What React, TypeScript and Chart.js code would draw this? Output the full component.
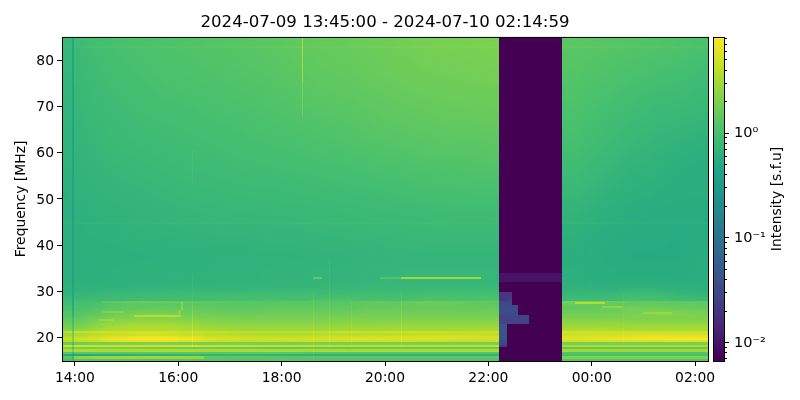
import { useEffect, useRef } from "react";
import { Chart, registerables } from "chart.js";

Chart.register(...registerables);

const chartTitle = "2024-07-09 13:45:00 - 2024-07-10 02:14:59";
const yLabel = "Frequency [MHz]";
const barLabel = "Intensity [s.f.u]";
const hourTicks = [14, 16, 18, 20, 22, 24, 26];
const hourLabels = ["14:00", "16:00", "18:00", "20:00", "22:00", "00:00", "02:00"];
const freqTicks = [20, 30, 40, 50, 60, 70, 80];
const vMin = 0.0066;
const vMax = 8.2;
const barMajor = [0.01, 0.1, 1];
const barMajorLabels = ["10\u207B\u00B2", "10\u207B\u00B9", "10\u2070"];
const barMinor = [0.007, 0.008, 0.009, 0.02, 0.03, 0.04, 0.05, 0.06, 0.07, 0.08, 0.09, 0.2, 0.3, 0.4, 0.5, 0.6, 0.7, 0.8, 0.9, 2, 3, 4, 5, 6, 7, 8];
const viridis = ["#440154", "#482475", "#414487", "#355f8d", "#2a788e", "#21918c", "#22a884", "#44bf70", "#7ad151", "#bddf26", "#fde725"];

// column edges, hours since 00:00 on the first day
const timeEdges = [13.75, 13.94, 13.98, 14.25, 14.5, 15, 15.5, 16, 16.5, 17, 17.5, 18, 18.5, 19, 19.5, 20, 20.5, 21, 21.5, 22, 22.215, 22.37, 22.45, 22.57, 22.78, 23.43, 24, 24.5, 25, 25.5, 26, 26.25];
const freqEdges = [85, 83, 80, 75, 70, 65, 60, 55, 50, 45, 40, 35, 34, 32, 30, 29, 28, 27.5, 27, 26, 25, 24.5, 24, 23, 22, 21.5, 21, 20.5, 20, 19.5, 19, 18.5, 18, 17.5, 17, 16.5, 16, 15.5, 15];
const G = 0.0066;

const intensity = [
  [.75, .45, .85, .95, 1.0, 1.05, 1.1, 1.15, 1.2, 1.25, 1.3, 1.4, 1.5, 1.55, 1.65, 1.75, 1.85, 1.9, 1.95, 2.0, G, G, G, G, G, 1.3, 1.25, 1.2, 1.15, 1.1, 1.05],
  [.74, .45, .82, .92, .98, 1.03, 1.08, 1.12, 1.18, 1.22, 1.28, 1.38, 1.45, 1.5, 1.6, 1.72, 1.8, 1.85, 1.9, 1.95, G, G, G, G, G, 1.25, 1.2, 1.15, 1.1, 1.05, 1.0],
  [.72, .45, .8, .88, .95, 1, 1.05, 1.08, 1.12, 1.18, 1.22, 1.3, 1.4, 1.45, 1.55, 1.65, 1.72, 1.78, 1.8, 1.85, G, G, G, G, G, 1.2, 1.12, 1.05, 1, .95, .9],
  [.7, .44, .75, .82, .9, .95, 1, 1.02, 1.05, 1.1, 1.15, 1.22, 1.3, 1.35, 1.42, 1.5, 1.58, 1.62, 1.65, 1.68, G, G, G, G, G, 1.12, 1.02, .95, .88, .85, .8],
  [.68, .43, .72, .78, .84, .9, .93, .96, 1, 1.02, 1.08, 1.12, 1.18, 1.22, 1.3, 1.38, 1.42, 1.48, 1.5, 1.52, G, G, G, G, G, 1.04, .94, .85, .78, .75, .72],
  [.66, .42, .7, .74, .8, .84, .87, .9, .93, .97, 1, 1.03, 1.08, 1.12, 1.18, 1.22, 1.28, 1.3, 1.32, 1.35, G, G, G, G, G, .98, .86, .76, .7, .66, .63],
  [.64, .41, .67, .7, .74, .78, .82, .85, .87, .9, .92, .95, .97, 1, 1.05, 1.08, 1.12, 1.14, 1.15, 1.18, G, G, G, G, G, .88, .76, .68, .64, .6, .58],
  [.62, .4, .65, .67, .7, .72, .75, .78, .8, .82, .83, .85, .87, .9, .92, .95, 1, 1, 1.02, 1.02, G, G, G, G, G, .78, .68, .63, .6, .57, .56],
  [.6, .39, .62, .64, .66, .68, .7, .72, .73, .75, .76, .77, .78, .8, .82, .84, .87, .88, .88, .88, G, G, G, G, G, .68, .61, .57, .55, .54, .55],
  [.6, .38, .61, .62, .63, .65, .66, .67, .68, .68, .7, .7, .72, .73, .74, .76, .77, .78, .78, .78, G, G, G, G, G, .62, .57, .55, .54, .53, .55],
  [.6, .38, .6, .6, .6, .61, .62, .62, .63, .63, .65, .65, .66, .67, .68, .7, .7, .7, .7, .7, G, G, G, G, G, .58, .55, .53, .53, .53, .56],
  [.6, .38, .6, .6, .62, .63, .63, .64, .65, .65, .66, .67, .68, .68, .7, .72, .72, .72, .72, .72, G, G, G, G, G, .6, .56, .55, .55, .55, .57],
  [.6, .38, .6, .6, .62, .63, .63, .64, .65, .65, .66, .67, .68, .68, .7, .72, .72, .72, .72, .72, .0095, .0095, .0095, .0095, .0095, .6, .56, .55, .55, .55, .57],
  [.62, .4, .62, .63, .65, .66, .67, .68, .68, .68, .7, .72, .72, .72, .74, .75, .75, .75, .76, .76, G, G, G, G, G, .64, .62, .64, .64, .6, .6],
  [.7, .45, .72, .74, .78, .8, .82, .85, .85, .85, .85, .88, .9, .9, .92, .92, .95, .95, .95, .95, .02, .02, G, G, G, .75, .75, .85, .8, .72, .7],
  [.75, .46, .78, .8, .85, .88, .9, .9, .95, .95, .95, .95, 1, 1, 1, 1, 1.05, 1.05, 1.05, 1.05, .02, .022, G, G, G, .85, .85, 1, .95, .85, .8],
  [.9, .5, .95, 1, 1.4, 1.6, 1.55, 1.45, 1.4, 1.3, 1.25, 1.3, 1.3, 1.3, 1.5, 1.45, 1.7, 1.6, 1.45, 1.4, .028, .028, G, G, G, 1.8, 1.7, 1.5, 1.45, 1.4, 1.4],
  [.9, .5, 1, 1.05, 1.25, 1.35, 1.3, 1.3, 1.3, 1.25, 1.3, 1.3, 1.3, 1.3, 1.45, 1.4, 1.6, 1.55, 1.45, 1.4, .03, .03, G, G, G, 1.6, 1.5, 1.4, 1.4, 1.45, 1.5],
  [1, .55, 1.05, 1.15, 1.3, 1.4, 1.5, 1.4, 1.4, 1.35, 1.4, 1.4, 1.4, 1.4, 1.5, 1.5, 1.5, 1.5, 1.5, 1.5, .035, .035, .035, G, G, 1.4, 1.5, 1.8, 1.7, 1.5, 1.5],
  [1.15, .6, 1.2, 1.3, 1.6, 1.8, 1.8, 1.6, 1.6, 1.5, 1.6, 1.6, 1.6, 1.6, 1.7, 1.7, 1.7, 1.7, 1.7, 1.7, .035, .035, .035, G, G, 1.7, 1.7, 1.8, 2, 2, 1.9],
  [1.2, .7, 1.3, 1.5, 1.8, 2.1, 2.2, 1.9, 1.8, 1.7, 1.8, 1.8, 1.8, 1.8, 1.9, 1.9, 1.9, 1.9, 1.9, 1.9, .028, .028, .028, .028, G, 1.9, 1.9, 2, 2.2, 2.2, 2],
  [1.3, .8, 1.4, 1.7, 2, 2.2, 2.2, 2.0, 2, 1.9, 1.9, 1.9, 1.9, 2, 2, 2, 2, 2, 2, 2, .028, .028, .028, .028, G, 2, 2, 2, 2, 2, 2],
  [1.5, .9, 1.6, 2, 2.4, 2.6, 2.6, 2.4, 2.2, 2.1, 2.1, 2.1, 2.1, 2.2, 2.2, 2.3, 2.3, 2.3, 2.3, 2.3, .028, .028, .028, .028, G, 2.4, 2.4, 2.3, 2.3, 2.3, 2.3],
  [1.8, 1.1, 2, 2.4, 3, 3.4, 3.4, 3, 2.7, 2.6, 2.6, 2.6, 2.6, 2.7, 2.7, 2.8, 2.8, 2.8, 2.8, 2.8, .04, G, G, G, G, 2.8, 2.9, 2.9, 2.9, 2.9, 2.9],
  [2.2, 1.2, 2.4, 2.8, 3.4, 3.6, 3.6, 3.2, 3, 2.8, 2.8, 2.8, 2.8, 3, 3, 3, 3, 3, 3.1, 3.2, .04, G, G, G, G, 3.4, 3.4, 3.2, 3.2, 3.2, 3.2],
  [4.2, 2, 4.5, 4.8, 5, 5.2, 5, 4.6, 4.4, 4.2, 4.2, 4.2, 4.2, 4.5, 4.5, 4.6, 4.6, 4.5, 4.5, 4.6, .04, G, G, G, G, 5, 5, 4.8, 4.6, 4.6, 4.6],
  [3, 1.6, 3.2, 3.6, 4.2, 4.8, 4.8, 4.2, 3.6, 3.4, 3.2, 3.2, 3.4, 3.5, 3.6, 3.8, 4, 4, 4, 4, .04, G, G, G, G, 4.4, 4.6, 5, 5.2, 5, 5],
  [3.6, 1.8, 3.8, 4.5, 5.5, 6.5, 6.5, 5.6, 4.6, 4.4, 4.2, 4.2, 4.5, 4.6, 4.8, 5, 5.4, 5.4, 5.2, 5, .04, G, G, G, G, 5.4, 5.6, 6, 6.4, 6.4, 6.2],
  [4.4, 2.2, 4.8, 5.5, 7, 8, 8, 7, 5.6, 5, 5, 5, 5.2, 5.5, 5.6, 5.6, 5.6, 5.4, 5.2, 5.2, .04, G, G, G, G, 6, 6.5, 7, 7.6, 8, 7.8],
  [3.6, 1.8, 3.8, 4.4, 5.5, 6, 6, 5.2, 4.6, 4.2, 4.2, 4.4, 4.4, 4.5, 4.6, 4.5, 4.4, 4.2, 4.2, 4.4, .03, G, G, G, G, 4.8, 5, 5.2, 5.4, 5.6, 5.6],
  [1.6, .9, 1.7, 1.8, 1.9, 2, 2, 1.9, 1.9, 1.9, 1.9, 1.9, 1.9, 1.9, 1.9, 1.9, 1.9, 1.9, 1.9, 1.9, .03, G, G, G, G, 1.9, 1.9, 1.9, 1.9, 1.9, 1.9],
  [5, 2.4, 5, 5, 5, 5, 5, 5, 4.8, 4.6, 4.4, 4.4, 4.2, 4.2, 4.2, 4.2, 4.2, 4.2, 4.2, 4.2, .02, G, G, G, G, 3.6, 3.6, 3.6, 3.6, 3.6, 3.6],
  [1.8, 1, 1.8, 1.8, 1.8, 1.8, 1.7, 1.6, 1.6, 1.6, 1.5, 1.5, 1.5, 1.5, 1.5, 1.5, 1.5, 1.5, 1.5, 1.5, G, G, G, G, G, 1.4, 1.4, 1.4, 1.4, 1.4, 1.4],
  [3.4, 1.8, 3.4, 3.4, 3.4, 3.4, 3.4, 3.4, 3.2, 3.2, 3.2, 3.2, 3.2, 3.2, 3.2, 3.2, 3.2, 3.2, 3.2, 3.2, G, G, G, G, G, 3, 3, 3, 3, 3, 3],
  [1.3, .8, 1.3, 1.3, 1.3, 1.3, 1.3, 1.3, 1.3, 1.3, 1.3, 1.3, 1.2, 1.2, 1.2, 1.2, 1.2, 1.2, 1.2, 1.2, G, G, G, G, G, 1.2, 1.2, 1.2, 1.2, 1.2, 1.2],
  [.5, .35, .5, .5, .55, .6, .65, .7, .7, .7, .7, .65, .65, .65, .65, .65, .65, .65, .65, .65, G, G, G, G, G, 1, 1, 1, 1, 1, 1],
  [1.3, .8, 2.2, 2.6, 2.8, 2.8, 2.8, 2.6, 1.4, 1.3, 1.3, 1.3, 1.3, 1.3, 1.3, 1.3, 1.3, 1.3, 1.3, 1.3, G, G, G, G, G, 2, 2, 2, 2, 2, 2],
  [1, .7, 1.2, 1.2, 1.2, 1.2, 1.2, 1.2, 1.2, 1.2, 1.2, 1.2, 1.1, 1.1, 1.1, 1.1, 1.1, 1.1, 1.1, 1.1, G, G, G, G, G, 1.2, 1.2, 1.2, 1.2, 1.2, 1.2],
];

// short streaks and bursts: time span, frequency span and the gain over the grid value
const eventStart = [18.4, 18.4, 19.9, 20.3, 18.6, 16.0, 16.05, 16.26, 16.26, 16.26, 15.15, 14.55, 14.45, 18.92, 20.3, 18.6, 19.35, 23.96, 24.6, 23.67, 24.2, 25.0, 13.75, 23.43, 13.75, 23.43];
const eventEnd = [18.42, 18.42, 20.3, 21.85, 18.78, 16.05, 16.1, 16.28, 16.28, 16.28, 16.06, 14.95, 14.75, 18.94, 20.32, 18.62, 19.37, 23.98, 24.62, 24.25, 24.6, 25.55, 22.215, 26.25, 22.215, 26.25];
const eventLow = [75, 68, 32.8, 32.8, 32.8, 25, 26, 18, 27, 53, 24.5, 25.4, 23.7, 18, 18, 15, 18, 28, 18, 27.3, 26.4, 25.2, 82.6, 82.6, 44.6, 44.6];
const eventHigh = [85, 75, 33.05, 33.05, 33.05, 26, 27.7, 27, 33.5, 60.5, 24.9, 25.8, 24.1, 37, 30, 30, 28, 40, 30, 27.7, 26.8, 25.6, 83, 83, 45, 45];
const eventGain = [2.4, 1.6, 1.6, 4, 2, 1.4, 1.6, 1.5, 1.15, 1.2, 1.8, 1.4, 1.3, 1.2, 1.25, 1.2, 1.15, 1.1, 1.1, 2.2, 1.6, 1.4, 1.08, 1.08, 1.1, 1.1];

const dejavu = "'DejaVu Sans', sans-serif";
const smoothRatio = 1.35;

function hexToRgb(h: string) {
  return [1, 3, 5].map((i) => parseInt(h.slice(i, i + 2), 16));
}
const logMin = Math.log10(vMin);
const logMax = Math.log10(vMax);
function rgbAt(t: number) {
  const p = Math.min(1, Math.max(0, t)) * (viridis.length - 1);
  const i = Math.min(viridis.length - 2, Math.floor(p));
  const a = hexToRgb(viridis[i]);
  const b = hexToRgb(viridis[i + 1]);
  return a.map((x, k) => Math.round(x + (b[k] - x) * (p - i)));
}
const lut = Array.from({ length: 1024 }, (_, i) => rgbAt(i / 1023));

type Cell = { x: number; y: number; v: number };

function buildCells(): Cell[] {
  const cells: Cell[] = [];
  intensity.forEach((row, r) => {
    row.forEach((v, c) => {
      cells.push({ x: (timeEdges[c] + timeEdges[c + 1]) / 2, y: (freqEdges[r] + freqEdges[r + 1]) / 2, v });
    });
  });
  return cells;
}

// for one axis value: own bin, nearest neighbour bin, weight of the neighbour
function locate(edges: number[], value: number) {
  const n = edges.length - 1;
  let i = 0;
  const asc = edges[1] > edges[0];
  while (i < n - 1 && (asc ? value >= edges[i + 1] : value < edges[i + 1])) i++;
  const centre = (edges[i] + edges[i + 1]) / 2;
  const below = value < centre;
  const j = Math.min(n - 1, Math.max(0, asc === below ? i - 1 : i + 1));
  const other = (edges[j] + edges[j + 1]) / 2;
  const w = j === i ? 0 : Math.abs(value - centre) / Math.abs(other - centre);
  return { i, j, w };
}

const cellPlugin = {
  id: "cells",
  beforeDatasetsDraw(chart: any) {
    const { ctx, chartArea: a, scales } = chart;
    const left = Math.round(a.left);
    const top = Math.round(a.top);
    const W = Math.round(a.right) - left;
    const H = Math.round(a.bottom) - top;
    const xs = Array.from({ length: W }, (_, k) => locate(timeEdges, scales.x.getValueForPixel(left + k + 0.5)));
    const ys = Array.from({ length: H }, (_, k) => locate(freqEdges, scales.y.getValueForPixel(top + k + 0.5)));
    const logs = new Float32Array(W * H);
    const lim = Math.log10(smoothRatio);
    const L = intensity.map((row) => row.map((v) => Math.log10(v)));
    for (let py = 0; py < H; py++) {
      const Y = ys[py];
      for (let px = 0; px < W; px++) {
        const X = xs[px];
        const own = L[Y.i][X.i];
        const right = Math.abs(L[Y.i][X.j] - own) < lim ? L[Y.i][X.j] : own;
        const lower = Math.abs(L[Y.j][X.i] - own) < lim ? L[Y.j][X.i] : own;
        const diag = Math.abs(L[Y.j][X.j] - own) < lim ? L[Y.j][X.j] : own;
        const v0 = own + (right - own) * X.w;
        const v1 = lower + (diag - lower) * X.w;
        logs[py * W + px] = v0 + (v1 - v0) * Y.w;
      }
    }
    eventGain.forEach((g, e) => {
      const x0 = Math.round(scales.x.getPixelForValue(eventStart[e])) - left;
      const x1 = Math.max(x0 + 1, Math.round(scales.x.getPixelForValue(eventEnd[e])) - left);
      const y0 = Math.round(scales.y.getPixelForValue(eventHigh[e])) - top;
      const y1 = Math.max(y0 + 1, Math.round(scales.y.getPixelForValue(eventLow[e])) - top);
      const lg = Math.log10(g);
      for (let py = Math.max(0, y0); py < Math.min(H, y1); py++) {
        for (let px = Math.max(0, x0); px < Math.min(W, x1); px++) logs[py * W + px] += lg;
      }
    });
    const img = ctx.createImageData(W, H);
    for (let k = 0; k < logs.length; k++) {
      const t = (logs[k] - logMin) / (logMax - logMin);
      const c = lut[Math.round(Math.min(1, Math.max(0, t)) * 1023)];
      img.data[k * 4] = c[0];
      img.data[k * 4 + 1] = c[1];
      img.data[k * 4 + 2] = c[2];
      img.data[k * 4 + 3] = 255;
    }
    ctx.putImageData(img, left, top);
  },
  afterDraw(chart: any) {
    const { ctx, chartArea: a } = chart;
    ctx.save();
    ctx.strokeStyle = "#000";
    ctx.lineWidth = 1;
    ctx.strokeRect(a.left + 0.5, a.top + 0.5, a.right - a.left, a.bottom - a.top);
    ctx.restore();
  },
};

const barPlugin = {
  id: "barTicks",
  afterDraw(chart: any) {
    const { ctx, chartArea: a, scales } = chart;
    ctx.save();
    ctx.strokeStyle = "#000";
    ctx.lineWidth = 1;
    ctx.strokeRect(a.left + 0.5, a.top + 0.5, a.right - a.left, a.bottom - a.top);
    const tick = (v: number, len: number) => {
      const y = Math.round(scales.y.getPixelForValue(v)) + 0.5;
      ctx.beginPath();
      ctx.moveTo(a.right, y);
      ctx.lineTo(a.right + len, y);
      ctx.stroke();
    };
    barMajor.forEach((v) => tick(v, 5));
    barMinor.forEach((v) => tick(v, 3));
    ctx.translate(777, 199);
    ctx.rotate(-Math.PI / 2);
    ctx.fillStyle = "#000";
    ctx.font = `13.89px ${dejavu}`;
    ctx.textAlign = "center";
    ctx.textBaseline = "middle";
    ctx.fillText(barLabel, 0, 0);
    ctx.restore();
  },
};

export default function App() {
  const mainRef = useRef<HTMLCanvasElement>(null);
  const barRef = useRef<HTMLCanvasElement>(null);

  useEffect(() => {
    const axisFont = { family: dejavu, size: 13.89 };
    const main = new Chart(mainRef.current as HTMLCanvasElement, {
      type: "scatter",
      data: { datasets: [{ label: "Intensity", data: buildCells() as any, pointRadius: 0 }] },
      plugins: [cellPlugin],
      options: {
        animation: false,
        responsive: false,
        events: [],
        layout: { padding: { left: 0, right: 92, top: 0, bottom: 0 } },
        plugins: {
          legend: { display: false },
          tooltip: { enabled: false },
          title: {
            display: true,
            text: chartTitle,
            fullSize: false,
            color: "#000",
            font: { family: dejavu, size: 16.6, weight: "normal" },
            padding: { top: 13, bottom: 4 },
          },
        },
        scales: {
          x: {
            type: "linear",
            min: 13.75,
            max: 26.25,
            afterBuildTicks: (s: any) => { s.ticks = hourTicks.map((value) => ({ value })); },
            afterFit: (s: any) => { s.height = 39; },
            grid: { display: true, drawOnChartArea: false, tickLength: 5, tickColor: "#000", tickWidth: 1 },
            border: { display: false },
            ticks: {
              color: "#000", font: axisFont, padding: 4, maxRotation: 0, autoSkip: false,
              callback: (v: any) => hourLabels[hourTicks.indexOf(Number(v))] ?? "",
            },
          },
          y: {
            type: "linear",
            min: 15,
            max: 85,
            afterBuildTicks: (s: any) => { s.ticks = freqTicks.map((value) => ({ value })); },
            afterFit: (s: any) => { s.width = 62; },
            grid: { display: true, drawOnChartArea: false, tickLength: 5, tickColor: "#000", tickWidth: 1 },
            border: { display: false },
            title: { display: true, text: yLabel, color: "#000", font: axisFont, padding: { top: 13, bottom: 0 } },
            ticks: { color: "#000", font: axisFont, padding: 3, autoSkip: false, labelOffset: 1 },
          },
        },
      },
    } as any);

    const bar = new Chart(barRef.current as HTMLCanvasElement, {
      type: "bar",
      data: {
        labels: ["scale"],
        datasets: [{
          data: [[vMin, vMax]] as any,
          barPercentage: 1,
          categoryPercentage: 1,
          borderWidth: 0,
          backgroundColor: (ctx: any) => {
            const a = ctx.chart.chartArea;
            if (!a) return viridis[0];
            const g = ctx.chart.ctx.createLinearGradient(0, a.bottom, 0, a.top);
            viridis.forEach((c, i) => g.addColorStop(i / (viridis.length - 1), c));
            return g;
          },
        }],
      },
      plugins: [barPlugin],
      options: {
        animation: false,
        responsive: false,
        events: [],
        layout: { padding: { left: 713, right: 0, top: 37, bottom: 39 } },
        plugins: { legend: { display: false }, tooltip: { enabled: false } },
        scales: {
          x: { display: false },
          y: {
            type: "logarithmic",
            position: "right",
            min: vMin,
            max: vMax,
            afterBuildTicks: (s: any) => { s.ticks = barMajor.map((value) => ({ value })); },
            afterFit: (s: any) => { s.width = 76; },
            grid: { display: false },
            border: { display: false },
            ticks: {
              color: "#000", font: { family: dejavu, size: 14.5 }, padding: 2, autoSkip: false, labelOffset: 1,
              callback: (v: any) => barMajorLabels[barMajor.indexOf(Number(v))] ?? "",
            },
          },
        },
      },
    } as any);

    return () => {
      main.destroy();
      bar.destroy();
    };
  }, []);

  return (
    <div style={{ position: "fixed", left: 0, top: 0, width: 800, height: 400, background: "#fff" }}>
      <canvas ref={mainRef} width={800} height={400} style={{ position: "absolute", left: 0, top: 0 }} />
      <canvas ref={barRef} width={800} height={400} style={{ position: "absolute", left: 0, top: 0 }} />
    </div>
  );
}
